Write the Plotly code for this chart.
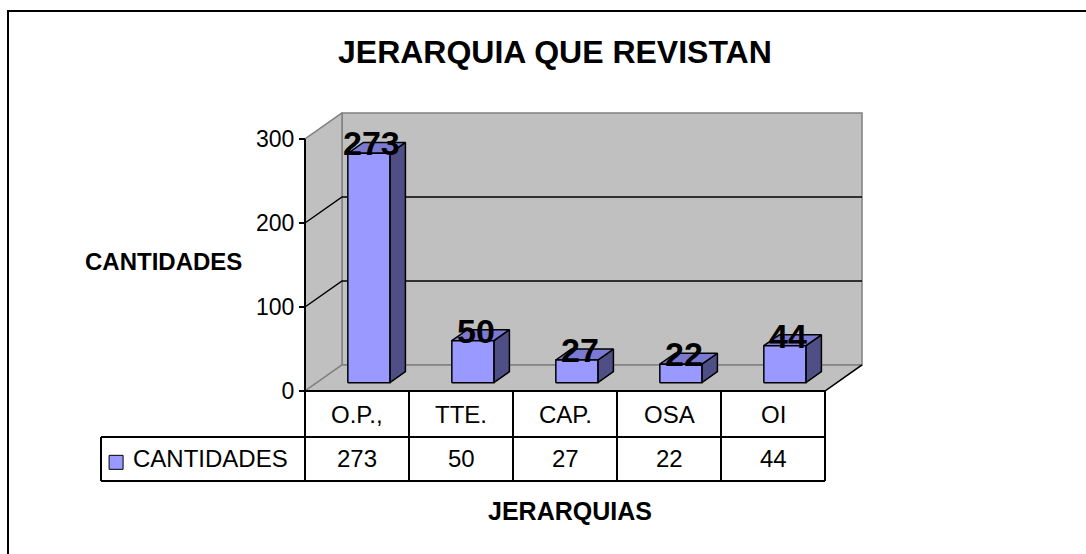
import plotly.graph_objects as go

# ---------------- data ----------------
categories = ["O.P.,", "TTE.", "CAP.", "OSA", "OI"]
values = [273, 50, 27, 22, 44]
series_name = "CANTIDADES"
y_ticks = [0, 100, 200, 300]
title = "JERARQUIA QUE REVISTAN"
x_title = "JERARQUIAS"
y_title = "CANTIDADES"

# ---------------- geometry (axis units) ----------------
W, H = 1086, 554
PX_CAT = 104.0          # px per category
PX_VAL = 0.84           # px per value unit
X0_PX, Y0_PX = 357.0, 391.0   # pixel of category 0 centre / value 0
XR = [(0 - X0_PX) / PX_CAT, (W - X0_PX) / PX_CAT]
YR = [(Y0_PX - H) / PX_VAL, Y0_PX / PX_VAL]

DX, DY = 0.356, 31.0    # full depth offset
F1, F2 = 0.32, 0.74     # bar depth fractions
HW = 0.202              # bar half width
YMAX = 300
n = len(categories)
xl, xr = -0.5, n - 0.5
row1 = -54.76
row2 = -107.1
leg_left = -2.4615

FONT = "Arial, 'Liberation Sans', sans-serif"
WALL = "#C0C0C0"
FRONT, TOP, SIDE = "#9999FF", "#7A7AD2", "#4F4F85"

fig = go.Figure()

def poly(xs, ys, fill, line_color, lw=1.0):
    fig.add_trace(go.Scatter(x=xs + [xs[0]], y=ys + [ys[0]], mode="lines",
                             fill="toself", fillcolor=fill,
                             line=dict(color=line_color, width=lw),
                             hoverinfo="skip", showlegend=False))

def seg(xs, ys, color, lw=1.5):
    fig.add_trace(go.Scatter(x=xs, y=ys, mode="lines",
                             line=dict(color=color, width=lw),
                             hoverinfo="skip", showlegend=False))

# walls
poly([xl + DX, xr + DX, xr + DX, xl + DX], [DY, DY, YMAX + DY, YMAX + DY], WALL, "#808080", 1.5)
poly([xl, xl + DX, xl + DX, xl], [0, DY, YMAX + DY, YMAX], WALL, "#808080", 1.5)
poly([xl, xr, xr + DX, xl + DX], [0, 0, DY, DY], WALL, "#808080", 1.5)
# floor right edge (black)
seg([xr, xr + DX], [0, DY], "black", 1.5)

# gridlines on side + back wall
for t in y_ticks[1:-1]:
    seg([xl, xl + DX, xr + DX], [t, t + DY, t + DY], "black", 1.5)

# bars
for i, v in enumerate(values):
    fx, fy = F1 * DX, F1 * DY
    bx, by = F2 * DX, F2 * DY
    L, R = i - HW, i + HW
    poly([R + fx, R + bx, R + bx, R + fx], [fy, by, v + by, v + fy], SIDE, "black", 1.5)
    poly([L + fx, R + fx, R + bx, L + bx], [v + fy, v + fy, v + by, v + by], TOP, "black", 1.5)
    poly([L + fx, R + fx, R + fx, L + fx], [fy, fy, v + fy, v + fy], FRONT, "black", 1.5)

# axis line and table lines
seg([xl, xl], [YMAX, row2], "black", 2)
seg([xl, xr], [0, 0], "black", 2)
seg([leg_left, xr], [row1, row1], "black", 2)
seg([leg_left, xr], [row2, row2], "black", 2)
seg([leg_left, leg_left], [row1, row2], "black", 2)
for k in range(1, n + 1):
    seg([xl + k, xl + k], [0, row2], "black", 2)

# legend key in table
fig.add_trace(go.Scatter(x=[leg_left + 0.145], y=[(row1 + row2) / 2 - 4], mode="markers",
                         marker=dict(symbol="square", size=14, color=FRONT,
                                     line=dict(color="black", width=1)),
                         hoverinfo="skip", showlegend=False))

ann = []
for i, v in enumerate(values):
    ann.append(dict(x=i + 0.14, y=v + 22, text=str(v), showarrow=False,
                    xref="x", yref="y", xanchor="center", yanchor="middle",
                    font=dict(family=FONT, size=34, color="black", weight="bold")))
for i, (c, v) in enumerate(zip(categories, values)):
    ann.append(dict(x=i, y=row1 / 2, text=c, showarrow=False, xref="x", yref="y",
                    xanchor="center", yanchor="middle",
                    font=dict(family=FONT, size=24, color="black")))
    ann.append(dict(x=i, y=(row1 + row2) / 2, text=str(v), showarrow=False, xref="x", yref="y",
                    xanchor="center", yanchor="middle",
                    font=dict(family=FONT, size=24, color="black")))
ann.append(dict(x=leg_left + 0.29, y=(row1 + row2) / 2, text=series_name, showarrow=False,
                xref="x", yref="y", xanchor="left", yanchor="middle",
                font=dict(family=FONT, size=24, color="black")))
ann.append(dict(x=555 / W, y=1 - 52 / H, text=title, showarrow=False, xref="paper", yref="paper",
                xanchor="center", yanchor="middle",
                font=dict(family=FONT, size=32, color="black", weight="bold")))
ann.append(dict(x=163 / W, y=1 - 261 / H, text=y_title, showarrow=False, xref="paper", yref="paper",
                xanchor="center", yanchor="middle",
                font=dict(family=FONT, size=24, color="black", weight="bold")))
ann.append(dict(x=570 / W, y=1 - 511 / H, text=x_title, showarrow=False, xref="paper", yref="paper",
                xanchor="center", yanchor="middle",
                font=dict(family=FONT, size=25, color="black", weight="bold")))

fig.update_layout(
    width=W, height=H, margin=dict(l=0, r=0, t=0, b=0),
    paper_bgcolor="white", plot_bgcolor="white",
    showlegend=False, annotations=ann,
    xaxis=dict(range=XR, visible=False, fixedrange=True),
    yaxis=dict(range=YR, anchor="free", position=(X0_PX - 0.5 * PX_CAT) / W,
               tickvals=y_ticks, ticks="outside", ticklen=6, tickwidth=1.5, tickcolor="black",
               showgrid=False, zeroline=False, showline=False,
               tickfont=dict(family=FONT, size=23, color="black"), fixedrange=True),
    shapes=[dict(type="rect", xref="paper", yref="paper", x0=8 / W, x1=1.02,
                 y0=-0.02, y1=1 - 11 / H, line=dict(color="black", width=2),
                 fillcolor="rgba(0,0,0,0)", layer="above")],
)

fig.write_html("out.html", config={"displayModeBar": False, "staticPlot": True},
               post_script="document.body.style.margin='0';document.body.style.overflow='hidden';")
